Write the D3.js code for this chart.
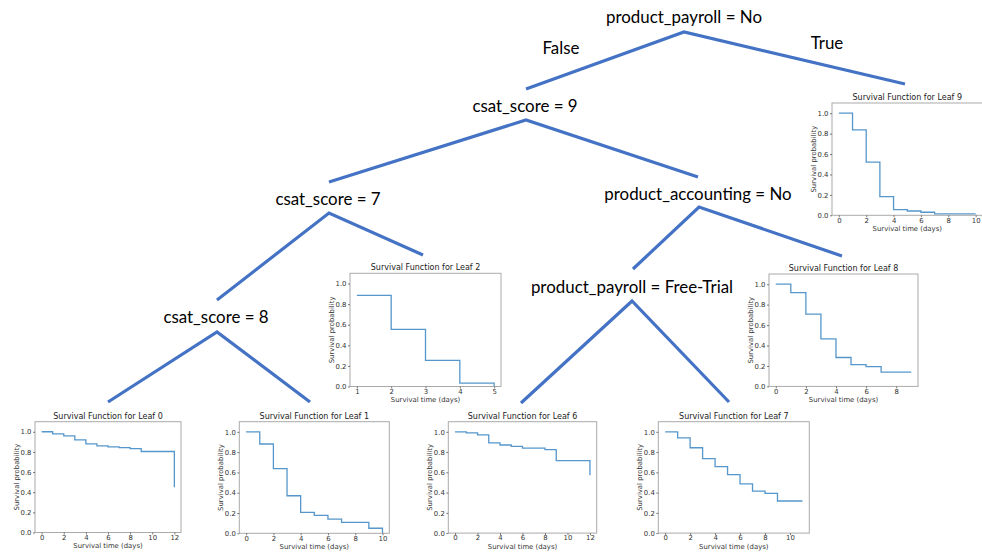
<!DOCTYPE html>
<html>
<head>
<meta charset="utf-8">
<script src="https://cdn.jsdelivr.net/npm/d3@7"></script>
<style>
  html, body { margin: 0; padding: 0; background: #fff; }
  svg { display: block; }
</style>
</head>
<body>
<svg id="chart" width="982" height="555"></svg>
<script>
// Survival tree: split conditions and Kaplan-Meier curves for each leaf.
const splitLabels = ["product_payroll = No", "csat_score = 9", "csat_score = 7",
  "product_accounting = No", "csat_score = 8", "product_payroll = Free-Trial"];
const branchLabels = ["False", "True"];

const leafNames = ["Leaf 0", "Leaf 1", "Leaf 2", "Leaf 6", "Leaf 7", "Leaf 8", "Leaf 9"];

const leaf0Times = [0, 1, 2, 3, 4, 5, 6, 7, 8, 9, 10, 11, 12];
const leaf0Surv  = [1.0, 0.98, 0.96, 0.92, 0.88, 0.86, 0.85, 0.843, 0.833, 0.804, 0.804, 0.804, 0.45];

const leaf1Times = [0, 1, 2, 3, 4, 5, 6, 7, 8, 9, 10];
const leaf1Surv  = [1.0, 0.88, 0.637, 0.37, 0.206, 0.176, 0.14, 0.108, 0.108, 0.05, 0.0];

const leaf2Times = [1, 2, 3, 4, 5];
const leaf2Surv  = [0.886, 0.555, 0.253, 0.032, 0.0];

const leaf6Times = [0, 1, 2, 3, 4, 5, 6, 7, 8, 9, 10, 11, 12];
const leaf6Surv  = [1.0, 0.99, 0.97, 0.89, 0.87, 0.856, 0.84, 0.84, 0.824, 0.716, 0.716, 0.716, 0.572];

const leaf7Times = [0, 1, 2, 3, 4, 5, 6, 7, 8, 9, 10, 11];
const leaf7Surv  = [1.0, 0.94, 0.843, 0.735, 0.657, 0.578, 0.487, 0.415, 0.392, 0.317, 0.317, 0.317];

const leaf8Times = [0, 1, 2, 3, 4, 5, 6, 7, 8, 9];
const leaf8Surv  = [1.0, 0.918, 0.708, 0.466, 0.283, 0.213, 0.193, 0.14, 0.14, 0.14];

const leaf9Times = [0, 1, 2, 3, 4, 5, 6, 7, 8, 9, 10];
const leaf9Surv  = [1.0, 0.837, 0.52, 0.182, 0.055, 0.042, 0.03, 0.013, 0.013, 0.013, 0.013];

const yTicks = [0.0, 0.2, 0.4, 0.6, 0.8, 1.0];
const xTicksLeaf2 = [1, 2, 3, 4, 5];
const xTicksEven = [0, 2, 4, 6, 8, 10, 12];

const svg = d3.select("#chart");
const treeColor = "#4472c4";
const curveColor = "#5596cc";
const treeFont = "Lato, 'Open Sans', sans-serif";
const treeFontSize = 16.9;

// ---- tree layout: label centre and the apex/ends of each split's branches
const nodeLayout = [
  { cx: 684, cy: 16,  apex: [684, 32],  left: [526, 89],  right: [905, 84] },
  { cx: 525, cy: 105, apex: [526, 120], left: [329, 182], right: [698, 177] },
  { cx: 328, cy: 198, apex: [329, 213], left: [217, 300], right: [423, 255] },
  { cx: 698, cy: 193, apex: [699, 207], left: [633, 269], right: [842, 256] },
  { cx: 216, cy: 316, apex: [217, 332], left: [108, 402], right: [310, 402] },
  { cx: 632, cy: 286, apex: [632, 301], left: [521, 403], right: [729, 402] }
];

const treeG = svg.append("g");
const line = d3.line();
splitLabels.forEach((lab, i) => {
  const n = nodeLayout[i];
  treeG.append("path")
    .attr("d", line([n.left, n.apex, n.right]))
    .attr("fill", "none")
    .attr("stroke", treeColor)
    .attr("stroke-width", 3.2)
    .attr("stroke-linejoin", "miter");
  treeG.append("text")
    .attr("x", n.cx).attr("y", n.cy)
    .attr("text-anchor", "middle")
    .attr("dominant-baseline", "central")
    .attr("font-family", treeFont)
    .attr("font-size", treeFontSize)
    .attr("fill", "#000")
    .text(lab);
});
// branch labels on the root split
[[561, 47], [827, 42]].forEach((p, i) => {
  treeG.append("text")
    .attr("x", p[0]).attr("y", p[1])
    .attr("text-anchor", "middle")
    .attr("dominant-baseline", "central")
    .attr("font-family", treeFont)
    .attr("font-size", treeFontSize)
    .attr("fill", "#000")
    .text(branchLabels[i]);
});

// ---- survival panels
const panels = [
  { name: leafNames[0], t: leaf0Times, s: leaf0Surv, ticks: xTicksEven, left: 35,    top: 421.7, w: 146,   h: 110.8 },
  { name: leafNames[1], t: leaf1Times, s: leaf1Surv, ticks: xTicksEven, left: 239.3, top: 421.7, w: 150,   h: 111.6 },
  { name: leafNames[2], t: leaf2Times, s: leaf2Surv, ticks: xTicksLeaf2, left: 350, top: 273.3, w: 151,   h: 113.2 },
  { name: leafNames[3], t: leaf6Times, s: leaf6Surv, ticks: xTicksEven, left: 448.3, top: 421.7, w: 148.4, h: 111.4 },
  { name: leafNames[4], t: leaf7Times, s: leaf7Surv, ticks: xTicksEven, left: 658.3, top: 421.7, w: 151,   h: 111.4 },
  { name: leafNames[5], t: leaf8Times, s: leaf8Surv, ticks: xTicksEven, left: 769,   top: 274,   w: 149,   h: 112.4 },
  { name: leafNames[6], t: leaf9Times, s: leaf9Surv, ticks: xTicksEven, left: 832,   top: 103,   w: 150.5, h: 112.3 }
];

const smallFont = "'DejaVu Sans', sans-serif";

panels.forEach(p => {
  const tMin = d3.min(p.t), tMax = d3.max(p.t);
  const pad = (tMax - tMin) * 0.05;
  const x = d3.scaleLinear().domain([tMin - pad, tMax + pad]).range([0, p.w]);
  const y = d3.scaleLinear().domain([0, 1.1]).range([p.h, 0]);
  const g = svg.append("g").attr("transform", `translate(${p.left},${p.top})`);

  // curve (post-step)
  const pts = p.t.map((d, i) => [d, p.s[i]]);
  g.append("path")
    .attr("d", d3.line().curve(d3.curveStepAfter).x(d => x(d[0])).y(d => y(d[1]))(pts))
    .attr("fill", "none")
    .attr("stroke", curveColor)
    .attr("stroke-width", 1.3);

  // frame
  g.append("rect")
    .attr("x", 0).attr("y", 0).attr("width", p.w).attr("height", p.h)
    .attr("fill", "none").attr("stroke", "#aaaaaa").attr("stroke-width", 1);

  // axes
  const xAxis = d3.axisBottom(x).tickValues(p.ticks.filter(v => v >= tMin && v <= tMax))
    .tickFormat(d3.format("d")).tickSize(2).tickPadding(0.5);
  const yAxis = d3.axisLeft(y).tickValues(yTicks).tickFormat(d3.format(".1f")).tickSize(2).tickPadding(1.5);
  const gx = g.append("g").attr("transform", `translate(0,${p.h})`).call(xAxis);
  const gy = g.append("g").call(yAxis);
  [gx, gy].forEach(a => {
    a.select(".domain").remove();
    a.selectAll(".tick line").attr("stroke", "#444").attr("stroke-width", 0.7);
    a.selectAll(".tick text").attr("font-family", smallFont).attr("font-size", 6.9).attr("fill", "#333");
  });

  // titles and axis labels
  g.append("text")
    .attr("x", p.w / 2).attr("y", -3)
    .attr("text-anchor", "middle")
    .attr("font-family", smallFont).attr("font-size", 8).attr("fill", "#222")
    .text("Survival Function for " + p.name);
  g.append("text")
    .attr("x", p.w / 2).attr("y", p.h + 15.5)
    .attr("text-anchor", "middle")
    .attr("font-family", smallFont).attr("font-size", 6.9).attr("fill", "#333")
    .text("Survival time (days)");
  g.append("text")
    .attr("transform", `translate(-16.5,${p.h / 2}) rotate(-90)`)
    .attr("text-anchor", "middle")
    .attr("font-family", smallFont).attr("font-size", 6.9).attr("fill", "#333")
    .text("Survival probability");
});
</script>
</body>
</html>
